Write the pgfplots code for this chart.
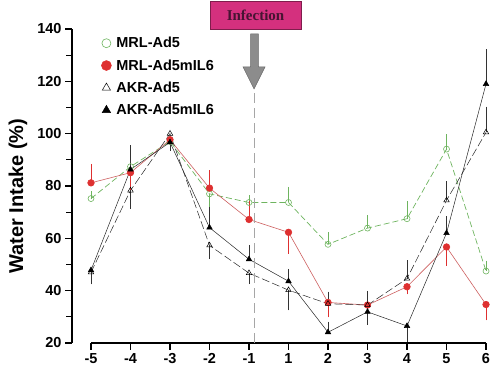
\documentclass[border=0pt]{standalone}
\usepackage{fontspec}
\setmainfont{Liberation Sans}
\newfontfamily\timesfont{Liberation Serif}
\usepackage{pgfplots}
\pgfplotsset{compat=1.18}
\definecolor{mgreen}{RGB}{110,180,95}
\definecolor{mred}{RGB}{222,48,48}
\definecolor{mredline}{RGB}{205,95,95}
\definecolor{infect}{RGB}{212,48,126}
\definecolor{arrowgray}{RGB}{140,140,140}
\definecolor{infecttext}{RGB}{70,20,50}
\pgfplotsset{
 errup/.style={forget plot, draw=none, mark=none, error bars/.cd, y dir=plus, y explicit,
   error bar style={draw=#1, line width=1pt, solid},
   error mark options={draw=#1, line width=1pt, mark size=2.5pt, solid}},
 errdown/.style={forget plot, draw=none, mark=none, error bars/.cd, y dir=minus, y explicit,
   error bar style={draw=#1, line width=1pt, solid},
   error mark options={draw=#1, line width=1pt, mark size=2.5pt, solid}},
}
\begin{document}
\begin{tikzpicture}
\begin{axis}[
 scale only axis, width=428pt, height=314pt,
 xmin=-0.481, xmax=10.354, ymin=20, ymax=140,
 clip=false,
 axis lines*=left, axis line style={draw=none},
 xtick={0,...,10}, xticklabels={-5,-4,-3,-2,-1,1,2,3,4,5,6},
 ytick={20,40,...,140}, minor y tick num=1, minor x tick num=0,
 tick align=outside, major tick length=7pt, minor tick length=6pt,
 every tick/.style={black, line width=1.2pt},
 /pgf/number format/assume math mode=true,
 ticklabel style={font=\fontsize{14.5}{16}\selectfont\bfseries},
 ylabel={Water Intake (\%)},
 ylabel style={font=\fontsize{20}{22}\selectfont\bfseries, at={(axis description cs:-0.126,0.468)}, anchor=center},
 legend image code/.code={\draw[#1, every mark/.append style={scale=1.5}] plot[only marks] coordinates {(0.1cm,0cm)};},
 legend style={at={(axis cs:0.26,137.7)}, anchor=north west, draw=none, fill=none,
   font=\fontsize{14.5}{16}\selectfont\bfseries, row sep=6.3pt, column sep=3pt, inner sep=0pt},
 legend cell align=left,
]
% MRL-Ad5
\addplot[mgreen, line width=0.7pt, dash pattern=on 6pt off 3pt, mark=o, mark size=3pt, mark options={solid, line width=0.6pt, fill=white}]
coordinates {(0,75.2) (1,87.4) (2,97) (3,77) (4,73.7) (5,73.7) (6,57.7) (7,63.9) (8,67.5) (9,94.1) (10,47.5)};
\addlegendentry{MRL-Ad5}
% MRL-Ad5mIL6
\addplot[mredline, line width=0.6pt, mark=*, mark size=3.3pt, mark options={solid, draw=mred, fill=mred}]
coordinates {(0,81.2) (1,85.1) (2,97.7) (3,79.2) (4,67.2) (5,62.3) (6,35.5) (7,34.5) (8,41.5) (9,56.7) (10,34.7)};
\addlegendentry{MRL-Ad5mIL6}
% AKR-Ad5
\addplot[black!85, line width=0.5pt, dash pattern=on 8pt off 3pt, mark=triangle, mark size=3.2pt, mark options={solid, black, fill=white, line width=0.5pt}]
coordinates {(0,47) (1,78.3) (2,100) (3,57.3) (4,46.7) (5,40.2) (6,35) (7,34.5) (8,44.6) (9,74.5) (10,100.5)};
\addlegendentry{AKR-Ad5}
% AKR-Ad5mIL6
\addplot[black!85, line width=0.5pt, mark=triangle*, mark size=3.2pt, mark options={solid, black, fill=black}]
coordinates {(0,47.8) (1,86.3) (2,96.7) (3,64.1) (4,52) (5,43.6) (6,24.1) (7,31.9) (8,26.5) (9,62) (10,119)};
\addlegendentry{AKR-Ad5mIL6}
% error bars
\addplot[errup=mgreen] coordinates {(0,75.2) +- (0,1.8) (4,73.7) +- (0,1.9) (5,73.7) +- (0,5) (6,57.7) +- (0,3.7) (7,63.9) +- (0,4) (8,67.5) +- (0,5.7) (9,94.1) +- (0,4.8) (10,47.5) +- (0,3)};
\addplot[errdown=mgreen] coordinates {(3,77) +- (0,5.5)};
\addplot[errup=mred] coordinates {(0,81.2) +- (0,6.3) (3,79.2) +- (0,5.8) (4,67.2) +- (0,6.3)};
\addplot[errdown=mred] coordinates {(1,85.1) +- (0,6.8) (5,62.3) +- (0,7.3) (6,35.5) +- (0,4.8) (8,41.5) +- (0,2) (9,56.7) +- (0,6.3) (10,34.7) +- (0,5.1)};
\addplot[errdown=black!80] coordinates {(0,47) +- (0,3.6) (1,78.3) +- (0,6.1) (3,57.3) +- (0,4.3) (4,46.7) +- (0,3.2) (5,40.2) +- (0,6.8)};
\addplot[errup=black!80] coordinates {(6,35) +- (0,3.7) (7,34.5) +- (0,4.5) (8,44.6) +- (0,6) (9,74.5) +- (0,6.3) (10,100.5) +- (0,8.9)};
\addplot[errup=black!80] coordinates {(1,86.3) +- (0,8.4) (3,64.1) +- (0,6.9) (4,52) +- (0,4.5) (5,43.6) +- (0,3.8) (6,24.1) +- (0,3.1) (9,62) +- (0,5.5) (10,119) +- (0,12.3)};
\addplot[errdown=black!80] coordinates {(2,96.7) +- (0,2.2) (7,31.9) +- (0,3.9) (8,26.5) +- (0,5.5)};
% axis lines
\draw[line width=1.5pt] (axis cs:0,20) -- (axis cs:10,20);
\draw[line width=1.5pt] (axis cs:-0.481,20) -- (axis cs:-0.481,140);
% infection annotation
\draw[fill=infect, draw=infect!60!black, line width=0.4pt] (axis cs:3.013,140) rectangle (axis cs:5.316,150.67);
\node[font=\timesfont\bfseries\fontsize{15}{17}\selectfont, text=infecttext] at (axis cs:4.165,145.3) {Infection};
\filldraw[fill=arrowgray, draw=gray!80!black, line width=0.5pt] (axis cs:4.043,138.1) -- (axis cs:4.235,138.1) -- (axis cs:4.235,125.5) -- (axis cs:4.405,125.5) -- (axis cs:4.127,117.1) -- (axis cs:3.848,125.5) -- (axis cs:4.043,125.5) -- cycle;
\draw[gray!70, line width=1pt, dash pattern=on 10pt off 5pt] (axis cs:4.127,115.5) -- (axis cs:4.127,20);
\end{axis}
\pgfresetboundingbox
\path ([xshift=-72pt,yshift=-36pt]current axis.south west) rectangle ([yshift=29pt]current axis.north east);
\end{tikzpicture}
\end{document}
